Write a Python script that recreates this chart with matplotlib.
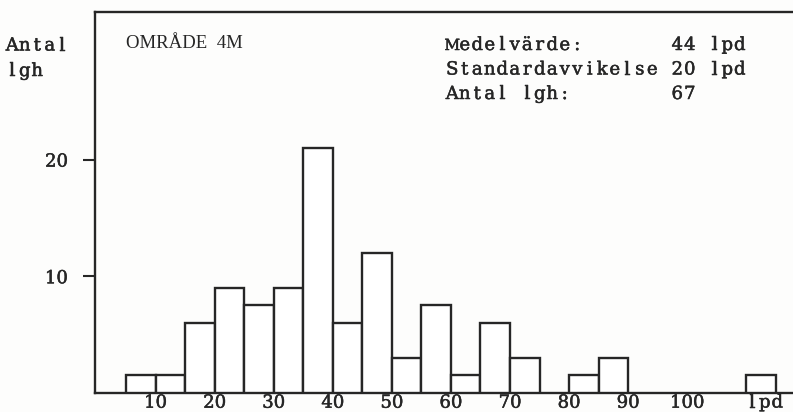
import matplotlib.pyplot as plt
import matplotlib.patheffects as pe

# andel lgh per klass (procent), klassbredd 5 lpd
class_start = [5, 10, 15, 20, 25, 30, 35, 40, 45, 50, 55, 60, 65, 70, 80, 85, 110]
share = [1.5, 1.5, 6.0, 9.0, 7.5, 9.0, 21.0, 6.0, 12.0, 3.0, 7.5, 1.5, 6.0, 3.0, 1.5, 3.0, 1.5]

xticks = [10, 20, 30, 40, 50, 60, 70, 80, 90, 100]
yticks = [10, 20]

area = "OMRÅDE  4M"
stats = ["Medelvärde:       44 lpd",
         "Standardavvikelse 20 lpd",
         "Antal lgh:        67"]

ink = "#262626"
serif = "DejaVu Serif"
heavy = [pe.withStroke(linewidth=0.35, foreground=ink)]
pitch = 12.5  # typewriter pitch in px

W, H = 793, 412
fig = plt.figure(figsize=(W / 100, H / 100), dpi=100)
fig.patch.set_facecolor("#fdfdfc")

# axes placed in pixels: left spine x=95, baseline y=393, top line y=12
ax = fig.add_axes([95 / W, 1 - 393 / H, 1 - 95 / W, (393 - 12) / H])
ax.set_facecolor("none")

ax.bar(class_start, share, width=5, align="edge", facecolor="white",
       edgecolor=ink, linewidth=1.7, zorder=3)

ax.set_xlim(-0.25, 117.9)
ax.set_ylim(0, 32.65)

for s in ["left", "bottom", "top"]:
    ax.spines[s].set_color(ink)
    ax.spines[s].set_linewidth(1.7)
ax.spines["right"].set_visible(False)

ax.set_yticks(yticks)
ax.set_yticklabels([str(v) for v in yticks])
ax.tick_params(axis="y", length=8.5, width=1.5, color=ink, pad=11)
ax.set_xticks(xticks)
ax.set_xticklabels([str(v) for v in xticks])
ax.tick_params(axis="x", length=0, pad=0.5)
for lab in ax.get_xticklabels() + ax.get_yticklabels():
    lab.set_fontfamily(serif)
    lab.set_fontsize(13)
    lab.set_color(ink)
    lab.set_path_effects(heavy)


def typed(x, y, s, size=13):
    # one glyph per fixed-width cell, x = left of first cell, y = baseline (px)
    for i, ch in enumerate(s):
        if ch == " ":
            continue
        fs = size * 0.85 if ch in "MmWw" else size  # wide glyphs squeezed
        fig.text((x + pitch * (i + 0.5)) / W, 1 - y / H, ch, fontsize=fs,
                 family=serif, color=ink, ha="center", va="baseline",
                 path_effects=heavy)


typed(6, 50.5, "Antal")
typed(6, 76, "lgh")
typed(746, 407.5, "lpd")
fig.text(126 / W, 1 - 48.5 / H, area, fontsize=13.5, family="Liberation Serif",
         color=ink, va="baseline")
for i, line in enumerate(stats):
    typed(446, 50 + 24.5 * i, line)

fig.savefig("out.png", dpi=100, facecolor=fig.get_facecolor())
